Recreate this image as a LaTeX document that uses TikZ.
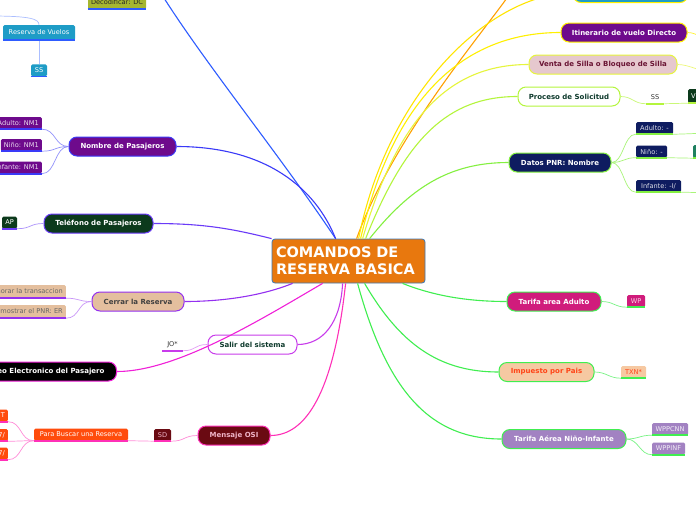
\documentclass[tikz,border=0pt]{standalone}
\usepackage{fontspec}
\setmainfont{DejaVu Sans}
\usepackage{xcolor}
\usetikzlibrary{positioning, calc}

\definecolor{cOrange}{HTML}{E8780E}
\definecolor{cRootB}{HTML}{3C78B8}
\definecolor{cBlueDC}{HTML}{2E5CFF}
\definecolor{cBlueA}{HTML}{3A3AF8}
\definecolor{cBlueB}{HTML}{6A3AF8}
\definecolor{cViolet}{HTML}{9430F0}
\definecolor{cOrchid}{HTML}{C83CEB}
\definecolor{cMagenta}{HTML}{F020D8}
\definecolor{cPink}{HTML}{FF30B8}
\definecolor{cAmber}{HTML}{FFA000}
\definecolor{cYellow}{HTML}{FFF000}
\definecolor{cYellowG}{HTML}{E6F53C}
\definecolor{cLime}{HTML}{B4F53C}
\definecolor{cGreenA}{HTML}{84F040}
\definecolor{cGreenB}{HTML}{40EE50}
\definecolor{cOlive}{HTML}{A6B630}
\definecolor{cTeal}{HTML}{1E9CC6}
\definecolor{cPurple}{HTML}{6E0A8C}
\definecolor{cDkGreen}{HTML}{0C3A1C}
\definecolor{cTan}{HTML}{E4BF9E}
\definecolor{cMaroon}{HTML}{6A0A12}
\definecolor{cPinkTxt}{HTML}{F0B4C8}
\definecolor{cRedOr}{HTML}{FF4C0C}
\definecolor{cPinkL}{HTML}{E6C8CE}
\definecolor{cWine}{HTML}{6A1434}
\definecolor{cDkText}{HTML}{0E3A2C}
\definecolor{cNavy}{HTML}{0E1C60}
\definecolor{cTealG}{HTML}{1E8060}
\definecolor{cRose}{HTML}{D01C7C}
\definecolor{cPeach}{HTML}{F6C9A2}
\definecolor{cOrRed}{HTML}{FF4416}
\definecolor{cLav}{HTML}{A282C2}

\begin{document}
\begin{tikzpicture}[%
  x=1pt, y=-1pt,
  every node/.style={align=center, font=\fontsize{6.6}{8}\selectfont},
  topic/.style={draw, line width=1pt, rounded corners=8pt, minimum height=19pt, inner xsep=4pt, inner ysep=2pt, font=\fontsize{7}{8.5}\selectfont\bfseries},
  leaf/.style={rounded corners=1.5pt, minimum height=12pt, inner xsep=3pt, inner ysep=1.5pt},
  main/.style={line width=1.1pt},
  twig/.style={line width=0.7pt},
  uline/.style={line width=1.6pt}
]
\useasboundingbox (0,0) rectangle (696,520);
\clip (0,0) rectangle (696,520);
\fill[white] (0,0) rectangle (696,520);

% 0. Central topic
\node[fill=cOrange, draw=cRootB, line width=0.8pt, rounded corners=3pt, minimum width=153pt, minimum height=44pt, text width=145pt, inner xsep=4pt, align=left, text=white, font=\fontsize{14.5}{17}\selectfont\bfseries] (root) at (348.5,261) {COMANDOS DE\\RESERVA BASICA};

% 1. Left branches
\node[leaf, fill=cOlive, text=black!85, minimum width=58pt, minimum height=14pt] (decod) at (117,2) {Decodificar: DC};
\node[leaf, fill=cTeal, text=white, minimum width=72pt, minimum height=15pt] (reserva) at (39,32.5) {Reserva de Vuelos};
\node[leaf, fill=cTeal, text=white, minimum width=16pt, below=24pt of reserva] (ssvuelos) {SS};

\node[topic, fill=cPurple, draw=cBlueA, text=white, minimum width=107pt] (nombre) at (122.5,146.5) {Nombre de Pasajeros};
\node[leaf, fill=cPurple, text=white!85!cPurple, anchor=east] (adultonm) at (42,123) {Adulto: NM1};
\node[leaf, fill=cPurple, text=white!85!cPurple, anchor=east] (ninonm) at (42,145) {Niño: NM1};
\node[leaf, fill=cPurple, text=white!85!cPurple, anchor=east] (infantenm) at (42,167.5) {Infante: NM1};

\node[topic, fill=cDkGreen, draw=cBlueB, text=white, minimum width=109pt] (telefono) at (98.5,223.5) {Teléfono de Pasajeros};
\node[leaf, fill=cDkGreen, text=white, minimum width=15pt] (ap) at (9.5,222.5) {AP};

\node[topic, fill=cTan, draw=cViolet, text=black!75, minimum width=92pt] (cerrar) at (138,301.5) {Cerrar la Reserva};
\node[leaf, fill=cTan, text=black!60, minimum height=13pt, anchor=east] (honorar) at (66,291.5) {Honorar la transaccion};
\node[leaf, fill=cTan, text=black!60, minimum height=13pt, anchor=east] (mostrar) at (66,311.5) {Terminar y mostrar el PNR: ER};

\node[topic, fill=white, draw=cOrchid, text=cDkText, minimum width=89pt] (salir) at (252.5,344.5) {Salir del sistema};
\node[inner xsep=5pt, inner ysep=1.5pt, minimum height=12pt, text=black!80] (jo) at (172.5,344.5) {JO*};

\node[topic, fill=black, draw=cMagenta, text=white, inner xsep=12pt, anchor=east] (correo) at (117,371.5) {Correo Electronico del Pasajero};

\node[topic, fill=cMaroon, draw=cPink, text=cPinkTxt, minimum width=72pt] (mensaje) at (234,435.5) {Mensaje OSI};
\node[leaf, fill=cMaroon, text=cPinkTxt, minimum width=17pt] (sd) at (162.5,435) {SD};
\node[leaf, fill=cRedOr, text=white, minimum width=94pt] (buscar) at (81,434.5) {Para Buscar una Reserva};
\node[leaf, fill=cRedOr, text=white, text width=14pt, align=right, anchor=east] (buscara) at (8,415.5) {T};
\node[leaf, fill=cRedOr, text=white, text width=14pt, align=right, anchor=east] (buscarb) at (8,435) {7/};
\node[leaf, fill=cRedOr, text=white, text width=14pt, align=right, anchor=east] (buscarc) at (8,453.5) {7/};

% 2. Right branches
\node[topic, fill=cTeal, draw=cYellow, minimum width=115pt] (vuelos) at (630.5,-7) {};
\node[topic, fill=cPurple, draw=cYellow, text=white, minimum width=126pt] (itinerario) at (624,32.5) {Itinerario de vuelo Directo};
\node[topic, fill=cPinkL, draw=cYellowG, text=cWine, minimum width=148pt] (venta) at (603,64.5) {Venta de Silla o Bloqueo de Silla};
\node[topic, fill=white, draw=cLime, text=cDkText, minimum width=102pt] (proceso) at (569,96.5) {Proceso de Solicitud};
\node[inner xsep=5pt, inner ysep=1.5pt, minimum height=12pt, text=black!80] (ssproc) at (655,97.5) {SS};
\node[leaf, fill=cDkGreen, text=white, minimum height=14pt, text width=14pt, align=left, anchor=west] (vproc) at (688,96) {V};

\node[topic, fill=cNavy, draw=cGreenA, text=white, minimum width=102pt] (datos) at (560,162.5) {Datos PNR: Nombre};
\node[leaf, fill=cNavy, text=white!85!cNavy, minimum width=37pt] (adultog) at (654.5,128) {Adulto: -};
\node[leaf, fill=cNavy, text=white!85!cNavy, minimum width=31pt] (ninog) at (651.5,151.5) {Niño: -};
\node[leaf, fill=cNavy, text=white!85!cNavy, minimum width=45pt] (infanteg) at (658.5,186) {Infante: -I/};
\node[leaf, fill=cTealG, minimum width=14pt, minimum height=13pt, anchor=west] (tealg) at (693,151.5) {};

\node[topic, fill=cRose, draw=cGreenB, text=white, minimum width=94pt] (tarifaad) at (554,301.5) {Tarifa area Adulto};
\node[leaf, fill=cRose, text=white!80!cRose, minimum width=18pt] (wp) at (636,301) {WP};

\node[topic, fill=cPeach, draw=cGreenB, text=cOrRed, minimum width=95pt] (impuesto) at (546.5,372) {Impuesto por Pais};
\node[leaf, fill=cPeach, text=cOrRed, minimum width=25pt] (txn) at (633.5,372) {TXN*};

\node[topic, fill=cLav, draw=cGreenB, text=white, minimum width=124pt] (tarifani) at (564,439) {Tarifa Aérea Niño-Infante};
\node[leaf, fill=cLav, text=white!85!cLav, minimum width=36pt] (wppcnn) at (670,429) {WPPCNN};
\node[leaf, fill=cLav, text=white!85!cLav, minimum width=33pt] (wppinf) at (668.5,448.5) {WPPINF};

% free ends off the page
\coordinate (offblue) at (150,-25);
\coordinate (offleft) at (-10,16);
\coordinate (offamber) at (518,-18);
\coordinate (offitin) at (712,40);
\coordinate (offventa) at (712,72);
\coordinate (offadulto) at (712,133);
\coordinate (offinfante) at (712,193);

% 3. Main connectors
\draw[main, cBlueDC] ($(root.north west)+(64,0)$) .. controls +(-60,-90) and +(40,70) .. (offblue);
\draw[main, cBlueA] ($(root.north west)+(64,0)$) .. controls +(-20,-50) and +(90,0) .. (nombre.east);
\draw[main, cBlueB] (root.north west) .. controls +(-40,-10) and +(50,0) .. (telefono.east);
\draw[main, cViolet] ($(root.south west)+(21,0)$) .. controls +(-30,12) and +(40,0) .. (cerrar.east);
\draw[main, cMagenta] ($(root.south west)+(51,0)$) .. controls +(-60,35) and +(60,0) .. (correo.east);
\draw[main, cOrchid] ($(root.south west)+(71,0)$) .. controls +(-2,40) and +(25,0) .. (salir.east);
\draw[main, cPink] ($(root.south west)+(74,0)$) .. controls +(-12,110) and +(35,0) .. (mensaje.east);

\draw[main, cAmber] ($(root.north west)+(85,0)$) .. controls +(40,-110) and +(-25,40) .. (offamber);
\draw[main, cYellow!90!orange] ($(root.north west)+(87,0)$) .. controls +(30,-150) and +(-80,0) .. (vuelos.west);
\draw[main, cYellow] ($(root.north west)+(89,0)$) .. controls +(35,-150) and +(-90,0) .. (itinerario.west);
\draw[main, cYellowG] ($(root.north west)+(91,0)$) .. controls +(35,-120) and +(-80,0) .. (venta.west);
\draw[main, cLime] ($(root.north west)+(94,0)$) .. controls +(40,-100) and +(-70,0) .. (proceso.west);
\draw[main, cGreenA] ($(root.north west)+(98,0)$) .. controls +(40,-50) and +(-60,0) .. (datos.west);
\draw[main, cGreenB] ($(root.south west)+(131,0)$) .. controls +(30,12) and +(-40,0) .. (tarifaad.west);
\draw[main, cGreenB] ($(root.south west)+(93,0)$) .. controls +(35,60) and +(-60,0) .. (impuesto.west);
\draw[main, cGreenB] ($(root.south west)+(86,0)$) .. controls +(30,110) and +(-70,0) .. (tarifani.west);

% 4. Sub connectors and underlines
\draw[uline, cBlueDC] (decod.south west) -- (decod.south east);
\draw[twig, cBlueDC!40] (offleft) .. controls +(40,0) and +(0,-6) .. (reserva.north);
\draw[twig, cBlueDC!40] (reserva.south) -- (ssvuelos.north);
\draw[uline, cBlueDC] (reserva.south west) -- (reserva.south east);
\draw[uline, cBlueDC] (ssvuelos.south west) -- (ssvuelos.south east);

\foreach \n in {adultonm, ninonm, infantenm} {
  \draw[twig, cBlueA!55] (nombre.west) .. controls +(-14,0) and +(14,0) .. (\n.south east);
  \draw[uline, cBlueA] (\n.south east) -- (\n.south west);
}
\draw[twig, cBlueB!55] (telefono.west) .. controls +(-14,0) and +(14,0) .. (ap.south east);
\draw[uline, cBlueB] (ap.south east) -- (ap.south west);

\foreach \n in {honorar, mostrar} {
  \draw[twig, cViolet!50] (cerrar.west) .. controls +(-14,0) and +(14,0) .. (\n.south east);
  \draw[uline, cViolet] (\n.south east) -- (\n.south west);
}
\draw[twig, cOrchid!50] (salir.west) .. controls +(-14,0) and +(14,0) .. (jo.south east);
\draw[uline, cOrchid] (jo.south east) -- (jo.south west);

\draw[twig, cPink!55] (mensaje.west) .. controls +(-14,0) and +(14,0) .. (sd.south east);
\draw[uline, cPink] (sd.south east) -- (sd.south west);
\draw[twig, cPink!55] (sd.south west) -- (buscar.south east);
\draw[uline, cPink] (buscar.south east) -- (buscar.south west);
\foreach \n in {buscara, buscarb, buscarc} {
  \draw[twig, cPink!55] (buscar.south west) .. controls +(-14,0) and +(14,0) .. (\n.south east);
  \draw[uline, cPink] (\n.south east) -- (\n.south west);
}

\draw[twig, cYellow!80] (itinerario.east) .. controls +(10,0) and +(-10,0) .. (offitin);
\draw[twig, cYellowG!70] (venta.east) .. controls +(12,0) and +(-12,0) .. (offventa);
\draw[twig, cLime!70] (proceso.east) .. controls +(12,0) and +(-12,0) .. (ssproc.south west);
\draw[uline, cLime] (ssproc.south west) -- (ssproc.south east);
\draw[twig, cLime!70] (ssproc.south east) -- (vproc.south west);
\draw[uline, cLime] (vproc.south west) -- (vproc.south east);

\foreach \n in {adultog, ninog, infanteg} {
  \draw[twig, cGreenA!70] (datos.east) .. controls +(12,0) and +(-12,0) .. (\n.south west);
  \draw[uline, cGreenA] (\n.south west) -- (\n.south east);
}
\draw[twig, cGreenA!70] (adultog.south east) .. controls +(10,0) and +(-10,0) .. (offadulto);
\draw[twig, cGreenA!70] (ninog.south east) -- (tealg.south west);
\draw[uline, cGreenA] (tealg.south west) -- (tealg.south east);
\draw[twig, cGreenA!70] (infanteg.south east) .. controls +(10,0) and +(-10,0) .. (offinfante);

\draw[twig, cGreenB!70] (tarifaad.east) .. controls +(12,0) and +(-12,0) .. (wp.south west);
\draw[uline, cGreenB] (wp.south west) -- (wp.south east);
\draw[twig, cGreenB!70] (impuesto.east) .. controls +(12,0) and +(-12,0) .. (txn.south west);
\draw[uline, cGreenB] (txn.south west) -- (txn.south east);
\foreach \n in {wppcnn, wppinf} {
  \draw[twig, cGreenB!70] (tarifani.east) .. controls +(12,0) and +(-12,0) .. (\n.south west);
  \draw[uline, cGreenB] (\n.south west) -- (\n.south east);
}

\end{tikzpicture}
\end{document}
